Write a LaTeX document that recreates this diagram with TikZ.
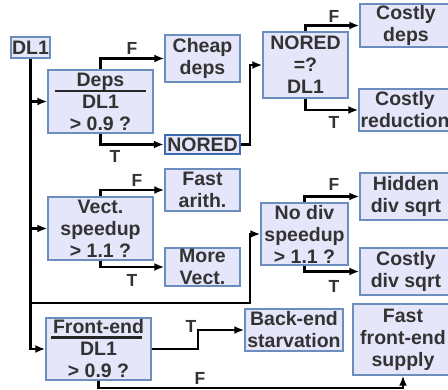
\documentclass[tikz,border=0pt]{standalone}
\usepackage{fontspec}
\setmainfont{Liberation Sans}
\usetikzlibrary{arrows.meta}
\definecolor{boxfill}{HTML}{E6E6FA}
\definecolor{boxline}{HTML}{6C8EBF}
\definecolor{boxdark}{HTML}{3D6AB0}
\definecolor{txt}{HTML}{333333}
\tikzset{
  box/.style={draw=boxline, fill=boxfill, line width=1.4pt, align=center, inner sep=0pt,
    text=txt, font=\fontsize{19.5}{22}\selectfont\bfseries},
  darkbox/.style={box, draw=boxdark, line width=2.4pt},
  conn/.style={line width=2.4pt, black, -{Latex[length=10pt,width=8pt]}},
  lbl/.style={text=txt, font=\fontsize{17.5}{19}\selectfont\bfseries, inner sep=0pt},
  fbar/.style={line width=2.2pt, black!85}
}
\begin{document}
\begin{tikzpicture}[x=1pt, y=-1pt]
\useasboundingbox (0,0) rectangle (448,390);
% nodes
\node[box, minimum width=39pt, minimum height=21pt] (dl1) at (30.5,47.5) {DL1};
\node[box, minimum width=105pt, minimum height=63pt] (deps) at (100.5,101.5) {Deps\\DL1\\> 0.9 ?};
\node[box, minimum width=75pt, minimum height=47pt] (cheap) at (202.5,58.5) {Cheap\\deps};
\node[darkbox, minimum width=75pt, minimum height=19pt] (nored) at (202.5,144.5) {NORED};
\node[box, minimum width=85pt, minimum height=66pt] (noredq) at (305.5,65) {NORED\\=?\\DL1};
\node[box, minimum width=92pt, minimum height=43pt] (cdeps) at (406,25.5) {Costly\\deps};
\node[box, minimum width=92pt, minimum height=42pt] (cred) at (405,110) {Costly\\reduction};
\node[box, minimum width=105pt, minimum height=63pt] (vect) at (100.5,228.5) {Vect.\\speedup\\> 1.1 ?};
\node[box, minimum width=75pt, minimum height=42pt] (fast) at (202.5,190) {Fast\\arith.};
\node[box, minimum width=75pt, minimum height=38pt] (morev) at (202.5,267) {More\\Vect.};
\node[box, minimum width=87pt, minimum height=62pt] (nodiv) at (304.5,234) {No div\\speedup\\> 1.1 ?};
\node[box, minimum width=92pt, minimum height=47pt] (hidden) at (406,196.5) {Hidden\\div sqrt};
\node[box, minimum width=92pt, minimum height=47pt] (cdiv) at (406,271.5) {Costly\\div sqrt};
\node[box, minimum width=105pt, minimum height=62pt] (front) at (98.5,349) {Front-end\\DL1\\> 0.9 ?};
\node[box, minimum width=98pt, minimum height=42pt] (back) at (294,330) {Back-end\\starvation};
\node[box, minimum width=100pt, minimum height=71pt] (ffe) at (403,339.5) {Fast\\front-end\\supply};
% fraction bars
\draw[fbar] (55,91) -- (146,91);
\draw[fbar] (51,337.5) -- (142,337.5);
% trunk
\draw[conn] (dl1.south) |- (front.west);
\draw[conn] (dl1.south |- deps.west) -- (deps.west);
\draw[conn] (dl1.south |- vect.west) -- (vect.west);
\coordinate (j1) at (30,303);
\coordinate (j2) at (250,303);
\draw[conn] (j1) -- (j2) |- (nodiv.west);
% deps branches
\draw[conn] (deps.north) |- (cheap.west);
\draw[conn] (deps.south) |- (nored.west);
\coordinate (n1) at (250,144.5);
\draw[conn] (nored.east) -- (n1) |- (noredq.west);
\draw[conn] (noredq.north) |- (cdeps.west);
\draw[conn] (noredq.south) |- (cred.west);
% vect branches
\draw[conn] (vect.north) |- (fast.west);
\draw[conn] (vect.south) |- (morev.west);
\draw[conn] (nodiv.north) |- (hidden.west);
\draw[conn] (nodiv.south) |- (cdiv.west);
% front-end branches
\coordinate (f1) at (198,349);
\draw[conn] (front.east) -- (f1) |- (back.west);
\coordinate (f2) at (98.5,388);
\draw[conn] (front.south) -- (f2) -| (ffe.south);
% labels
\node[lbl] (lf1) at (132,48) {F};
\node[lbl] (lt1) at (115,156) {T};
\node[lbl] (lf2) at (334,16) {F};
\node[lbl] (lt2) at (334,122) {T};
\node[lbl] (lf3) at (137,180) {F};
\node[lbl] (lt3) at (132,280) {T};
\node[lbl] (lf4) at (334,184) {F};
\node[lbl] (lt4) at (334,286) {T};
\node[lbl] (lt5) at (191,326) {T};
\node[lbl] (lf5) at (200,378) {F};
\end{tikzpicture}
\end{document}
